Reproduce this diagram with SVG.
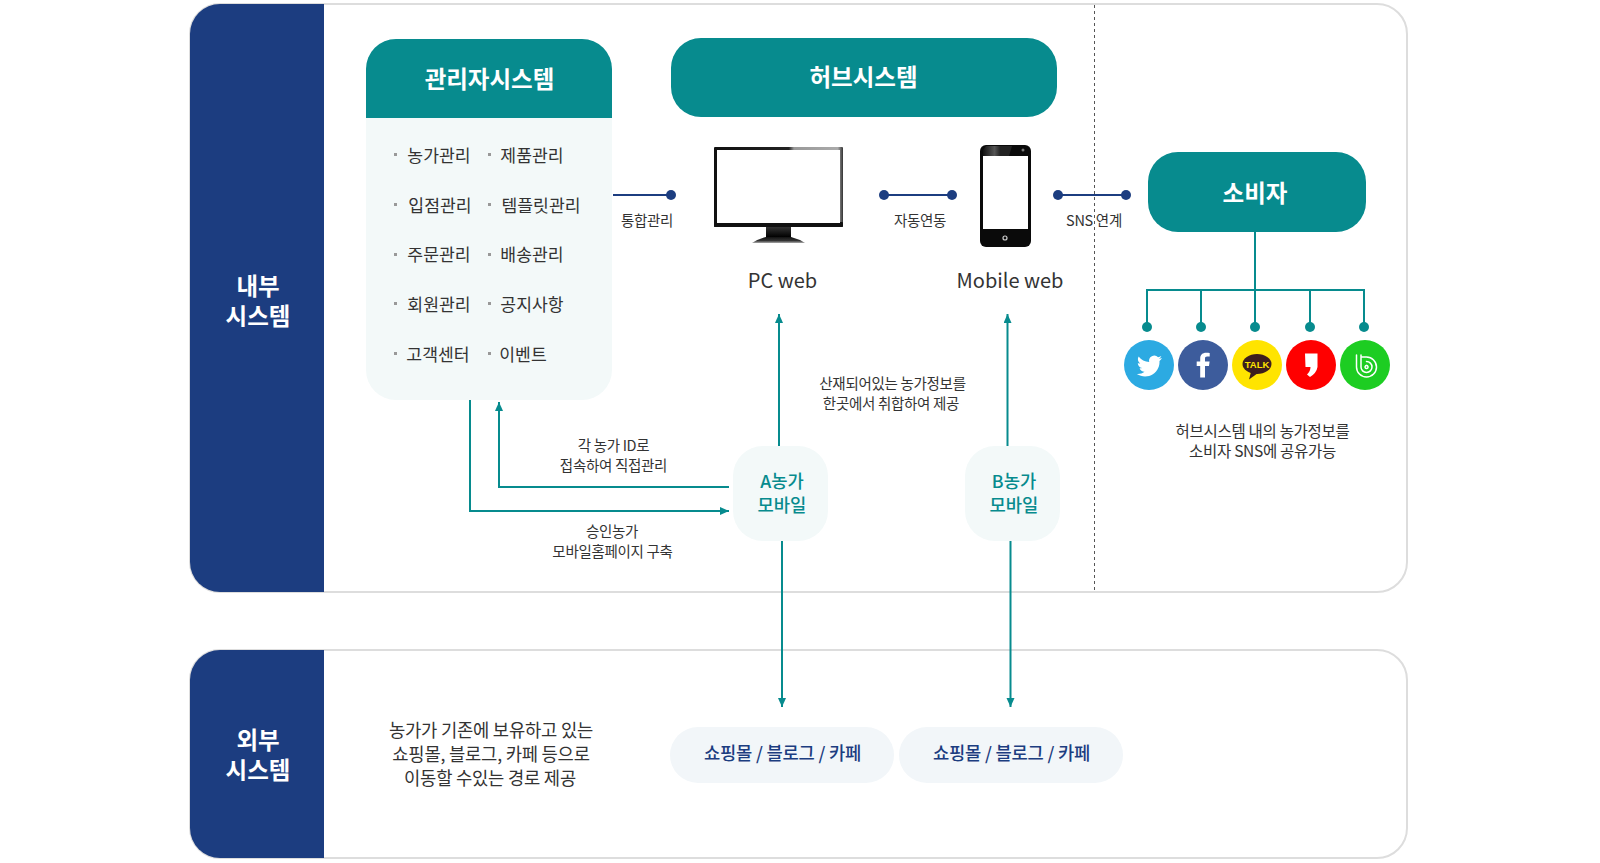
<svg xmlns="http://www.w3.org/2000/svg" width="1600" height="863" viewBox="0 0 1600 863">
<style>
text{font-family:"Noto Sans CJK KR","Noto Sans",sans-serif;text-anchor:middle;fill:#333}
.t{font-size:23.500px;font-weight:700;fill:#fff}
.l{font-size:17.200px}
.bul{fill:#999}
.s{font-size:14.500px;letter-spacing:-.3px}
.m{font-size:15.500px;letter-spacing:-.3px}
.b{font-size:17.700px;fill:#078b8e;font-weight:500}
.w{font-size:20px}
.p{font-size:17.700px;font-weight:500;fill:#1c3d80;letter-spacing:-.2px}
.e{font-size:17.700px;letter-spacing:-.2px}
.frame{fill:#fff;stroke:#ddd;stroke-width:2}
.navy{fill:#1c3d80}
.teal{fill:#078b8e}
.pale{fill:#f3f9f9}
.pill{fill:#f2f6f9}
.cn{stroke:#1c3d80;stroke-width:2;fill:none}
.ct{stroke:#078b8e;stroke-width:2;fill:none}
</style>
<defs>
<marker id="ah" markerUnits="userSpaceOnUse" markerWidth="10" markerHeight="9" refX="9" refY="4" orient="auto"><path d="M0 0L9 4L0 8z" fill="#078b8e"/></marker>
<linearGradient id="bez" x1="0" x2="1" y1="0" y2="0"><stop offset="0" stop-color="#111"/><stop offset=".58" stop-color="#222"/><stop offset=".62" stop-color="#999"/><stop offset=".96" stop-color="#aaa"/><stop offset="1" stop-color="#333"/></linearGradient>
<linearGradient id="stand" x1="0" x2="0" y1="0" y2="1"><stop offset="0" stop-color="#333"/><stop offset="1" stop-color="#000"/></linearGradient>
<linearGradient id="base" x1="0" x2="0" y1="0" y2="1"><stop offset="0" stop-color="#111"/><stop offset=".6" stop-color="#333"/><stop offset="1" stop-color="#aaa"/></linearGradient>
<linearGradient id="gloss" x1="0" x2="1" y1="0" y2="0"><stop offset="0" stop-color="#111"/><stop offset=".4" stop-color="#555"/><stop offset=".6" stop-color="#222"/></linearGradient>
</defs>

<g id="internal-frame">
<rect class="frame" x="190" y="4" width="1217" height="588" rx="30"/>
<path class="navy" d="M324 4H220a30 30 0 0 0-30 30V562a30 30 0 0 0 30 30H324z"/>
<text class="t" x="258"><tspan x="258" y="295">내부</tspan><tspan x="258" dy="30">시스템</tspan></text>
</g>
<g id="external-frame">
<rect class="frame" x="190" y="650" width="1217" height="208" rx="30"/>
<path class="navy" d="M324 650H220a30 30 0 0 0-30 30V828a30 30 0 0 0 30 30H324z"/>
<text class="t" x="258"><tspan x="258" y="749">외부</tspan><tspan x="258" dy="30">시스템</tspan></text>
<text class="e" x="491"><tspan x="491" y="737">농가가 기존에 보유하고 있는</tspan><tspan x="491" dy="24">쇼핑몰, 블로그, 카페 등으로</tspan><tspan x="490" dy="24">이동할 수있는 경로 제공</tspan></text>
</g>

<line x1="1094.500" y1="5" x2="1094.500" y2="591" stroke="#555" stroke-width="1" stroke-dasharray="3 3"/>

<g id="connectors">
<path class="cn" d="M613 195H671"/><circle class="navy" cx="671" cy="195" r="5"/>
<path class="cn" d="M884 195H952"/><circle class="navy" cx="884" cy="195" r="5"/><circle class="navy" cx="952" cy="195" r="5"/>
<path class="cn" d="M1058 195H1126"/><circle class="navy" cx="1058" cy="195" r="5"/><circle class="navy" cx="1126" cy="195" r="5"/>
<path class="ct" d="M1255 232V327M1147 327V290H1364V327M1201 290V327M1310 290V327"/>
<circle class="teal" cx="1147" cy="327" r="5"/><circle class="teal" cx="1201" cy="327" r="5"/><circle class="teal" cx="1255" cy="327" r="5"/><circle class="teal" cx="1310" cy="327" r="5"/><circle class="teal" cx="1364" cy="327" r="5"/>
<path class="ct" d="M470 400V511H729" marker-end="url(#ah)"/>
<path class="ct" d="M729 487H499V402" marker-end="url(#ah)"/>
<path class="ct" d="M779 446V314" marker-end="url(#ah)"/>
<path class="ct" d="M1007.500 446V314" marker-end="url(#ah)"/>
<path class="ct" d="M782 541V707" marker-end="url(#ah)"/>
<path class="ct" d="M1010.500 541V707" marker-end="url(#ah)"/>
<text class="s" x="647" y="225.500">통합관리</text>
<text class="s" x="920" y="225.500">자동연동</text>
<text class="s" x="1094" y="225.500">SNS 연계</text>
<text class="s" x="892.500"><tspan x="892.500" y="389">산재되어있는 농가정보를</tspan><tspan x="891" dy="20">한곳에서 취합하여 제공</tspan></text>
<text class="s" x="613.500"><tspan x="613.500" y="451">각 농가 ID로</tspan><tspan x="613.500" dy="20">접속하여 직접관리</tspan></text>
<text class="s" x="612"><tspan x="612" y="537">승인농가</tspan><tspan x="612.500" dy="20">모바일홈페이지 구축</tspan></text>
</g>

<g id="admin">
<rect class="pale" x="366" y="39" width="246" height="361" rx="30"/>
<path class="teal" d="M366 118V69a30 30 0 0 1 30-30H582a30 30 0 0 1 30 30V118z"/>
<text class="t" x="489.500" y="88">관리자시스템</text>
<rect class="bul" x="394" y="153" width="3" height="3"/><rect class="bul" x="488" y="153" width="3" height="3"/>
<rect class="bul" x="394" y="203" width="3" height="3"/><rect class="bul" x="488" y="203" width="3" height="3"/>
<rect class="bul" x="394" y="253" width="3" height="3"/><rect class="bul" x="488" y="253" width="3" height="3"/>
<rect class="bul" x="394" y="302" width="3" height="3"/><rect class="bul" x="488" y="302" width="3" height="3"/>
<rect class="bul" x="394" y="352" width="3" height="3"/><rect class="bul" x="488" y="352" width="3" height="3"/>
<text class="l" x="439" y="162">농가관리</text><text class="l" x="532" y="162">제품관리</text>
<text class="l" x="440" y="212">입점관리</text><text class="l" x="541" y="212">템플릿관리</text>
<text class="l" x="439" y="261">주문관리</text><text class="l" x="532" y="261">배송관리</text>
<text class="l" x="439" y="311">회원관리</text><text class="l" x="532" y="311">공지사항</text>
<text class="l" x="438" y="361">고객센터</text><text class="l" x="523" y="361">이벤트</text>
</g>

<g id="hub">
<rect class="teal" x="671" y="38" width="386" height="79" rx="30"/>
<text class="t" x="863.500" y="86">허브시스템</text>
</g>

<g id="pc-web">
<rect x="714" y="147" width="129" height="80" rx="1" fill="url(#bez)"/>
<rect x="714" y="222" width="129" height="5" rx="1" fill="#111"/>
<rect x="717" y="150" width="123" height="73" fill="#fff"/>
<rect x="766" y="227" width="25" height="10" fill="url(#stand)"/>
<path d="M752 243Q758 239 766 237H791Q799 239 805 243z" fill="url(#base)"/>
<text class="w" x="782.500" y="288">PC web</text>
</g>

<g id="mobile-web">
<rect x="980" y="145" width="51" height="102" rx="6" fill="#0a0a0a"/>
<path d="M986 146H1012L1009 156H983V150z" fill="url(#gloss)"/>
<rect x="983" y="156" width="45" height="73" fill="#fff"/>
<circle cx="1023" cy="150" r="1.500" fill="#777"/>
<circle cx="1005" cy="238" r="2" fill="none" stroke="#ccc" stroke-width="1.200"/>
<text class="w" x="1010" y="288">Mobile web</text>
</g>

<g id="consumer">
<rect class="teal" x="1148" y="152" width="218" height="80" rx="30"/>
<text class="t" x="1255" y="202">소비자</text>
<text class="m" x="1262.500"><tspan x="1262.500" y="437">허브시스템 내의 농가정보를</tspan><tspan x="1262.500" dy="20">소비자 SNS에 공유가능</tspan></text>
</g>

<g id="twitter"><circle cx="1149" cy="365" r="25" fill="#2caae2"/>
<path transform="translate(1 0)" d="M1161 358c-1 .5-2 .8-3 .9 1-.6 2-1.600 2.300-2.800-1 .6-2.100 1-3.200 1.200a5.200 5.200 0 0 0-8.900 4.700c-4.300-.2-8-2.200-10.600-5.500-1.400 2.400-.7 5.400 1.600 7-.8 0-1.600-.2-2.400-.6 0 2.500 1.800 4.700 4.200 5.200-.8.200-1.600.2-2.400.1.700 2.100 2.600 3.500 4.900 3.600-2.200 1.700-5 2.500-7.700 2.200 8 5 18 2 21.500-6.300 1-2.200 1.300-4.500 1.200-6.800 1.100-.8 2-1.800 2.500-2.900z" fill="#fff"/></g>
<g id="facebook"><circle cx="1203" cy="365" r="25" fill="#3d5c9c"/>
<path d="M1205 377.500V366h4l.6-4.500H1205v-2.800c0-1.300.4-2.200 2.200-2.200h2.500v-3.500c-.5 0-2-.2-3.600-.2-3.500 0-5.900 2.100-5.900 5.500v3.200h-3.500V366h3.500v11.500z" fill="#fff"/></g>
<g id="kakao"><circle cx="1257" cy="365" r="25" fill="#ffe400"/>
<ellipse cx="1257" cy="364" rx="14.500" ry="10" fill="#3c1e1e"/><path d="M1251 372L1249 379.500L1258 373z" fill="#3c1e1e"/>
<text x="1257" y="368" style="font-family:'Liberation Sans',sans-serif;font-size:9.500px;font-weight:700;fill:#ffe400">TALK</text></g>
<g id="story"><circle cx="1311" cy="365" r="25" fill="#f00"/>
<path d="M1305 353.500H1317.500V367Q1316.500 373 1310 377L1307 374.500Q1310.500 371 1310.500 367H1305.500z" fill="#fff"/></g>
<g id="band"><circle cx="1365" cy="365" r="25" fill="#1dcd22"/>
<path d="M1356.500 355V367a10 10 0 1 0 10-10H1362M1361 355V367a5.500 5.500 0 1 0 5.500-5.500M1366.500 365.500a1.500 1.500 0 1 0 .1 0" fill="none" stroke="#fff" stroke-width="1.500" stroke-linecap="round"/></g>

<g id="farm-a">
<rect class="pale" x="733" y="446" width="95" height="95" rx="30"/>
<text class="b" x="782"><tspan x="782" y="488">A농가</tspan><tspan x="782" dy="24">모바일</tspan></text>
</g>
<g id="farm-b">
<rect class="pale" x="965" y="446" width="95" height="95" rx="30"/>
<text class="b" x="1014"><tspan x="1014" y="488">B농가</tspan><tspan x="1014" dy="24">모바일</tspan></text>
</g>
<g id="shop-a">
<rect class="pill" x="670" y="727" width="224" height="56" rx="28"/>
<text class="p" x="782.500" y="760">쇼핑몰 / 블로그 / 카페</text>
</g>
<g id="shop-b">
<rect class="pill" x="899" y="727" width="224" height="56" rx="28"/>
<text class="p" x="1011.500" y="760">쇼핑몰 / 블로그 / 카페</text>
</g>
</svg>
